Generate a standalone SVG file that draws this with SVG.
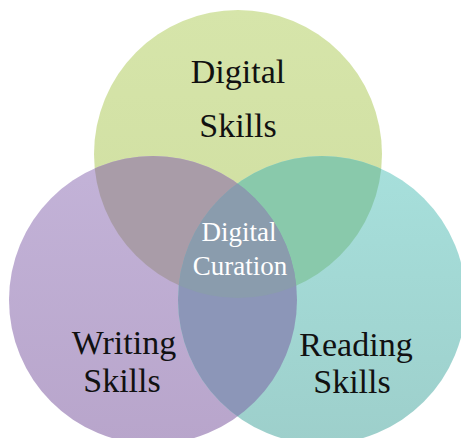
<svg xmlns="http://www.w3.org/2000/svg" width="461" height="438" viewBox="0 0 461 438">
  <defs>
    <clipPath id="clipDigital"><circle cx="238" cy="154" r="144"/></clipPath>
    <clipPath id="clipWriting"><circle cx="153" cy="300" r="144"/></clipPath>
    <clipPath id="clipReading"><circle cx="322" cy="300" r="144"/></clipPath>
    <linearGradient id="gDigital" x1="0" y1="0" x2="0" y2="1">
      <stop offset="0" stop-color="#d6e5aa"/>
      <stop offset="1" stop-color="#cfdea0"/>
    </linearGradient>
    <linearGradient id="gWriting" x1="0" y1="0" x2="0" y2="1">
      <stop offset="0" stop-color="#c3b3d8"/>
      <stop offset="1" stop-color="#b8a5cb"/>
    </linearGradient>
    <linearGradient id="gReading" x1="0" y1="0" x2="0" y2="1">
      <stop offset="0" stop-color="#a7e0dc"/>
      <stop offset="1" stop-color="#9dcfcb"/>
    </linearGradient>
  </defs>
  <style>
    .label { font-family: "Liberation Serif", "Times New Roman", serif; font-size: 34px; fill: #111; text-anchor: middle; }
    .core { font-family: "Liberation Serif", "Times New Roman", serif; font-size: 27px; fill: #ffffff; text-anchor: middle; }
  </style>

  <rect width="461" height="438" fill="#ffffff"/>

  <!-- the three skill sets -->
  <g id="digital-skills">
    <circle cx="238" cy="154" r="144" fill="url(#gDigital)"/>
  </g>
  <g id="writing-skills">
    <circle cx="153" cy="300" r="144" fill="url(#gWriting)"/>
  </g>
  <g id="reading-skills">
    <circle cx="322" cy="300" r="144" fill="url(#gReading)"/>
  </g>

  <!-- pairwise overlaps -->
  <g id="overlaps">
    <g clip-path="url(#clipWriting)">
      <circle cx="238" cy="154" r="144" fill="#a99ca8"/>
    </g>
    <g clip-path="url(#clipReading)">
      <circle cx="238" cy="154" r="144" fill="#89c9ab"/>
    </g>
    <g clip-path="url(#clipReading)">
      <circle cx="153" cy="300" r="144" fill="#8c96b8"/>
    </g>
  </g>

  <!-- centre: all three -->
  <g id="digital-curation">
    <g clip-path="url(#clipReading)">
      <g clip-path="url(#clipWriting)">
        <circle cx="238" cy="154" r="144" fill="#8a9cad"/>
      </g>
    </g>
    <text class="core" x="239" y="241">Digital</text>
    <text class="core" x="240" y="275">Curation</text>
  </g>

  <!-- labels -->
  <g id="labels">
    <text class="label" x="238" y="83">Digital</text>
    <text class="label" x="238" y="137">Skills</text>
    <text class="label" x="124" y="354">Writing</text>
    <text class="label" x="122" y="392">Skills</text>
    <text class="label" x="356" y="356">Reading</text>
    <text class="label" x="352" y="393">Skills</text>
  </g>
</svg>
